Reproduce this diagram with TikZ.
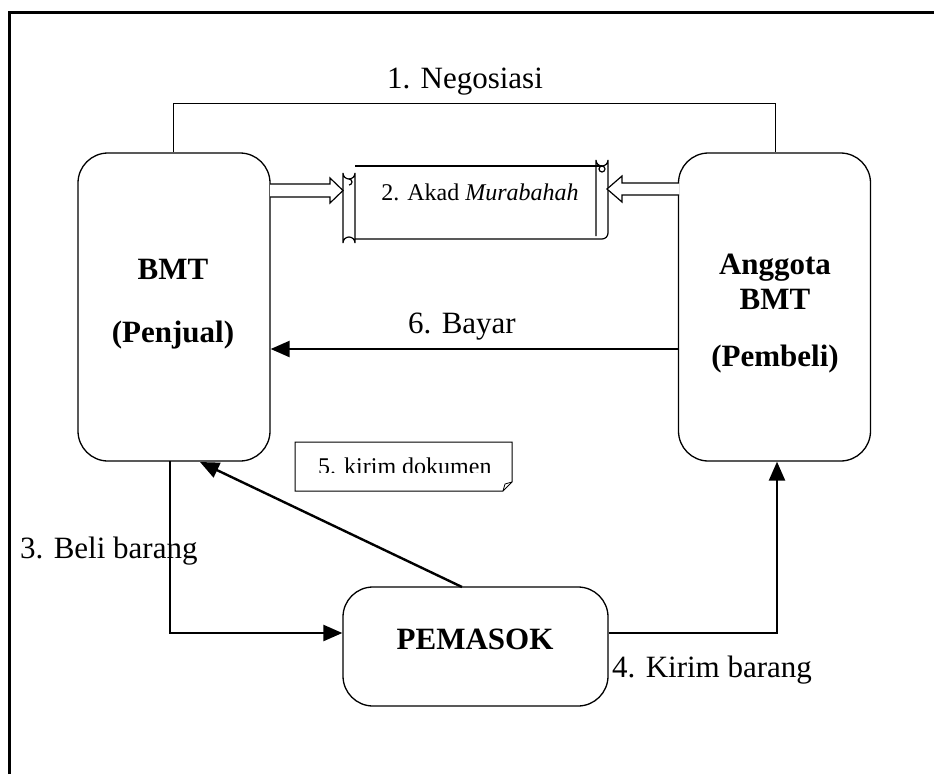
\documentclass[tikz,border=0pt]{standalone}
\usepackage{fontspec}
\setmainfont{Liberation Serif}
\usetikzlibrary{arrows.meta,calc}
\begin{document}
\begin{tikzpicture}[x=1pt,y=-1pt,
  bigbox/.style={draw,line width=1.3pt,rounded corners=30pt,minimum width=192pt,minimum height=308pt,inner sep=0pt},
  pbox/.style={draw,line width=1.3pt,rounded corners=30pt,minimum width=265pt,minimum height=119pt,inner sep=0pt},
  txt/.style={inner sep=0pt,anchor=base,font=\fontsize{31}{37}\selectfont},
  btxt/.style={txt,font=\fontsize{31}{37}\selectfont\bfseries},
  stxt/.style={inner sep=0pt,anchor=base,font=\fontsize{24}{29}\selectfont},
  conn/.style={line width=2.4pt},
  arr/.style={conn,-{Triangle[length=19pt,width=16pt]}},
  blockarrow/.style={draw,line width=1.2pt,fill=white,line join=miter}
]
\useasboundingbox (0,0) rectangle (934,774);
\fill[white] (0,0) rectangle (934,774);
% page frame
\draw[line width=3pt] (9,774) -- (9,12) -- (934,12);

% boxes
\node[bigbox] (bmt) at (174,307) {};
\node[bigbox] (ang) at (774.5,307) {};
\node[pbox] (pem) at (475.5,646.5) {};

% texts in boxes
\node[btxt] (t1) at (173,279) {BMT};
\node[btxt] (t2) at (173,342) {(Penjual)};
\node[btxt] (t3) at (775,274) {Anggota};
\node[btxt] (t4) at (775,309) {BMT};
\node[btxt] (t5) at (775,366) {(Pembeli)};
\node[btxt] (t6) at (475,649) {PEMASOK};

% 1. Negosiasi
\coordinate (n1) at (173,103);
\coordinate (n2) at (775,103);
\draw[line width=1pt] (bmt.north -| n1) -- (n1) -- (n2) -- (ang.north -| n2);
\node[txt] (lneg) at (465,88) {1. Negosiasi};

% scroll (2. Akad Murabahah)
\coordinate (sc) at (480,200);
\begin{scope}[line width=1.2pt]
  % body
  \draw (355,166) -- (596,166);
  \draw (355,239) -- (602,239) arc[start angle=90,end angle=0,radius=6] -- (608,166);
  % right roll
  \draw (596,236) -- (596,160) arc[start angle=180,end angle=0,radius=6] -- (608,166);
  \draw (602,166) arc[start angle=270,end angle=90,radius=3] arc[start angle=90,end angle=-90,radius=3];
  \draw (596,166) -- (602,166);
  % left roll
  \draw (343,173) arc[start angle=180,end angle=0,radius=6] -- (355,243) arc[start angle=0,end angle=-180,radius=6] -- cycle;
  \draw (349,179) arc[start angle=-90,end angle=90,radius=3];
\end{scope}
\node[stxt] (lakad) at (sc) {2. Akad \textit{Murabahah}};

% block arrows
\draw[blockarrow] (270,184) -- (330,184) -- (330,178) -- (343,190.5) -- (330,203) -- (330,197) -- (270,197);
\draw[blockarrow] (679,183) -- (622,183) -- (622,176) -- (607,189) -- (622,202) -- (622,195) -- (679,195);

% 6. Bayar
\coordinate (b1) at (679,349);
\draw[arr] (b1) -- (bmt.east |- b1);
\node[txt] (lbayar) at (462,333) {6. Bayar};

% 5. kirim dokumen (note)
\draw[line width=1pt] (295,442) -- (512,442) -- (512,482) -- (503,491) -- (295,491) -- cycle;
\draw[line width=0.8pt] (503,491) -- (505,484) -- (512,482);
\begin{scope}
  \clip (296,443) rectangle (511,472.5);
  \node[stxt,anchor=base west] (ldok) at (318,474) {5. kirim dokumen};
\end{scope}

% PEMASOK -> BMT
\coordinate (p1) at (462,587);
\coordinate (p2) at (200,462);
\draw[arr] (p1) -- (p2);

% 3. Beli barang
\coordinate (c1) at (170,461);
\coordinate (c2) at (170,633);
\draw[arr] (c1) -- (c2) -- (pem.west |- c2);
\node[txt,anchor=base west] (lbeli) at (20,558) {3. Beli barang};

% 4. Kirim barang
\coordinate (d1) at (777,633);
\draw[arr] (pem.east |- d1) -- (d1) -- (ang.south -| d1);
\node[txt,anchor=base west] (lkirim) at (612,677) {4. Kirim barang};
\end{tikzpicture}
\end{document}
